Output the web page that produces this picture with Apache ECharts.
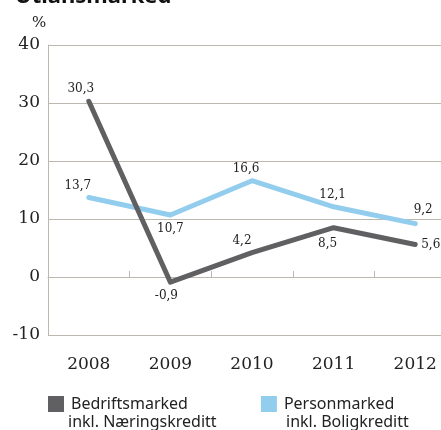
<!DOCTYPE html>
<html><head><meta charset="utf-8">
<script src="https://cdn.jsdelivr.net/npm/echarts@6/dist/echarts.min.js"></script>
<style>html,body{margin:0;padding:0;background:#fff}#c{width:441px;height:430px}</style>
</head><body><div id="c"></div>
<script>
var categories = ['2008', '2009', '2010', '2011', '2012'];
var bedrift = [30.3, -0.9, 4.2, 8.5, 5.6];
var person = [13.7, 10.7, 16.6, 12.1, 9.2];
var yTicks = [-10, 0, 10, 20, 30, 40];

var bedriftLabelPos = [
  {position: 'top', offset: [-8, 0]},
  {position: 'bottom', offset: [-4, 2]},
  {position: 'top', offset: [-10, 0]},
  {position: 'bottom', offset: [-6, 4]},
  {position: 'right', offset: [0, 0]}
];
var personLabelPos = [
  {position: 'top', offset: [-11, 0]},
  {position: 'bottom', offset: [0, 2]},
  {position: 'top', offset: [-6, 0]},
  {position: 'top', offset: [-1, 0]},
  {position: 'top', offset: [8, -2]}
];

function fmt(v) { return String(v).replace('.', ','); }
var serif = 'DejaVu Serif';
var gridColor = '#bdb8ae';
var darkColor = '#606062';
var lightColor = '#93cdee';
function build(vals, pos) {
  return vals.map(function (v, i) {
    return {value: v, label: {show: true, position: pos[i].position, offset: pos[i].offset,
      distance: 6, fontFamily: serif, fontSize: 12, color: '#222', formatter: fmt(v)}};
  });
}
var square = 'path://M0,0H10V10H0Z';
var chart = echarts.init(document.getElementById('c'));
chart.setOption({
  animation: false,
  grid: {left: 48, top: 45, right: -15, bottom: 95, containLabel: false, outerBoundsMode: 'none'},
  legend: {
    left: 43, top: 391, itemGap: 73, itemWidth: 16, itemHeight: 16,
    itemStyle: {borderWidth: 0},
    lineStyle: {width: 0},
    textStyle: {fontFamily: 'Noto Sans', fontSize: 16, color: '#222', padding: [0, 0, 0, 2]},
    data: [
      {name: 'Bedriftsmarked', icon: square, itemStyle: {color: darkColor, borderWidth: 0}},
      {name: 'Personmarked', icon: square, itemStyle: {color: lightColor, borderWidth: 0}}
    ],
    selectedMode: false
  },
  graphic: [
    {type: 'text', x: 15, y: -14, style: {text: 'Utlånsmarked', font: 'bold 22px "Noto Sans"', fill: '#111'}},
    {type: 'text', x: 32, y: 16, style: {text: '%', font: '15px "DejaVu Serif"', fill: '#222'}},
    {type: 'text', x: 68, y: 414, style: {text: 'inkl. Næringskreditt', font: '16px "Noto Sans"', fill: '#222'}},
    {type: 'text', x: 286, y: 414, style: {text: 'inkl. Boligkreditt', font: '16px "Noto Sans"', fill: '#222'}}
  ],
  xAxis: {
    type: 'category', data: categories, boundaryGap: true,
    axisLine: {onZero: true, lineStyle: {color: gridColor, width: 1}},
    axisTick: {show: true, inside: true, length: 6, lineStyle: {color: gridColor}},
    axisLabel: {fontFamily: serif, fontSize: 17, color: '#222', margin: 21}
  },
  yAxis: {
    type: 'value', min: -10, max: 40, interval: 10,
    axisLine: {show: true, lineStyle: {color: gridColor}},
    axisTick: {show: false},
    splitLine: {lineStyle: {color: gridColor}},
    axisLabel: {fontFamily: serif, fontSize: 17, color: '#222', margin: 8,
      formatter: function (v) { return yTicks.indexOf(v) >= 0 ? String(v) : ''; }}
  },
  series: [
    {
      name: 'Bedriftsmarked', type: 'line', data: build(bedrift, bedriftLabelPos),
      symbol: 'circle', symbolSize: 0.01, showSymbol: true, color: darkColor,
      itemStyle: {color: darkColor, borderWidth: 0},
      lineStyle: {width: 5, color: darkColor, cap: 'round', join: 'round'},
      z: 3
    },
    {
      name: 'Personmarked', type: 'line', data: build(person, personLabelPos),
      symbol: 'circle', symbolSize: 0.01, showSymbol: true, color: lightColor,
      itemStyle: {color: lightColor, borderWidth: 0},
      lineStyle: {width: 5, color: lightColor, cap: 'round', join: 'round'},
      z: 2
    }
  ]
});
</script></body></html>
